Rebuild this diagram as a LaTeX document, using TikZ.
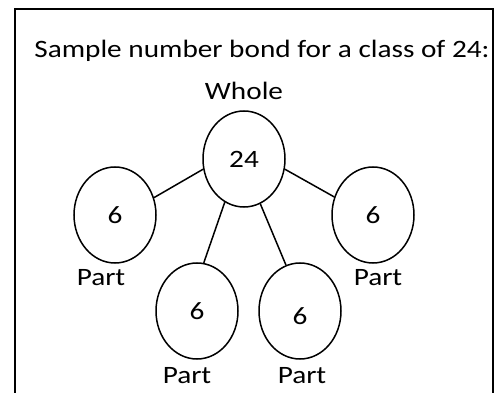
\documentclass[tikz,border=0pt]{standalone}
\usepackage{fontspec}
\setmainfont{Carlito}[FakeStretch=1.17]
\usepackage{tikz}
\usetikzlibrary{shapes.geometric}

\begin{document}
\begin{tikzpicture}[
  x=1pt,y=-1pt,
  bond/.style={
    draw,
    ellipse,
    line width=1.5pt,
    minimum width=82pt,
    minimum height=96pt,
    inner sep=0pt,
    font=\fontsize{25}{30}\selectfont
  },
  caption/.style={
    anchor=base,
    inner sep=0pt,
    font=\fontsize{25}{30}\selectfont
  },
  link/.style={line width=1.5pt}
]
  \useasboundingbox (0,0) rectangle (496,393);
  % frame, open at the bottom
  \draw[line width=2pt] (15,393) -- (15,9) -- (493,9) -- (493,393);

  \node[caption] (title) at (262,58) {Sample number bond for a class of 24:};
  \node[caption] (wholelabel) at (244,100) {Whole};

  \node[bond] (whole) at (244,159) {24};
  \node[bond] (partA) at (115,215) {6};
  \node[bond] (partB) at (373,215) {6};
  \node[bond] (partC) at (197,311) {6};
  \node[bond] (partD) at (300,311) {};
  \node[caption,anchor=center] (numD) at (300,316) {6};

  \node[caption] (labelA) at (101,285) {Part};
  \node[caption] (labelB) at (378,285) {Part};
  \node[caption] (labelC) at (187,383) {Part};
  \node[caption] (labelD) at (302,383) {Part};

  \draw[link] (whole.194) -- (partA.24);
  \draw[link] (whole.346) -- (partB.155);
  \draw[link] (whole.246) -- (partC.82);
  \draw[link] (whole.290) -- (partD.107);
\end{tikzpicture}
\end{document}
